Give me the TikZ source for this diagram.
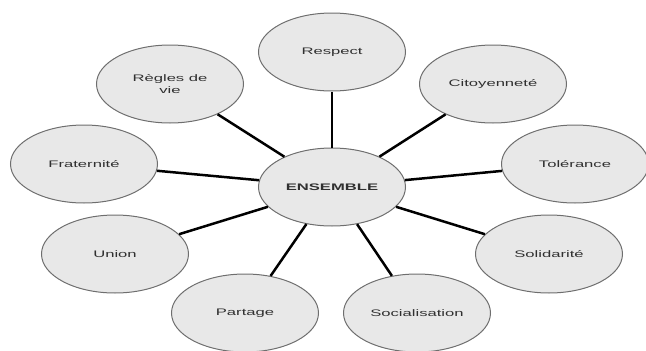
\documentclass[tikz,border=0pt]{standalone}
\usepackage{fontspec}
\setmainfont[FakeStretch=1.75]{Liberation Sans}
\usepackage{tikz}
\usetikzlibrary{shapes.geometric}

\definecolor{bubblefill}{HTML}{E8E8E8}
\definecolor{bubbleline}{HTML}{6E6E6E}
\definecolor{bubbletext}{HTML}{303030}

\tikzset{
bubble/.style={ellipse,draw=bubbleline,line width=1pt,fill=bubblefill,
  minimum width=147pt,minimum height=78pt,inner sep=0pt,align=center,
  text=bubbletext,font=\fontsize{9.5}{11.5}\selectfont},
link/.style={line width=2.5pt,black}
}

\begin{document}
\begin{tikzpicture}[x=1pt,y=-1pt]
\useasboundingbox (0,0) rectangle (646,351);
\node[bubble] (ensemble) at (332,187) {\textbf{ENSEMBLE}};
\node[bubble] (respect) at (332,52) {Respect};
\node[bubble] (regles) at (170,84) {Règles de\\vie};
\node[bubble] (citoyen) at (493,84) {Citoyenneté};
\node[bubble] (frat) at (84,164) {Fraternité};
\node[bubble] (tol) at (575,164) {Tolérance};
\node[bubble] (union) at (115,254) {Union};
\node[bubble] (solid) at (549,254) {Solidarité};
\node[bubble] (partage) at (245,313) {Partage};
\node[bubble] (social) at (417,313) {Socialisation};
% liens vers le centre
\foreach \n in {respect,regles,citoyen,frat,tol,union,solid,partage,social}
  \draw[link] (ensemble) -- (\n);
\end{tikzpicture}
\end{document}
